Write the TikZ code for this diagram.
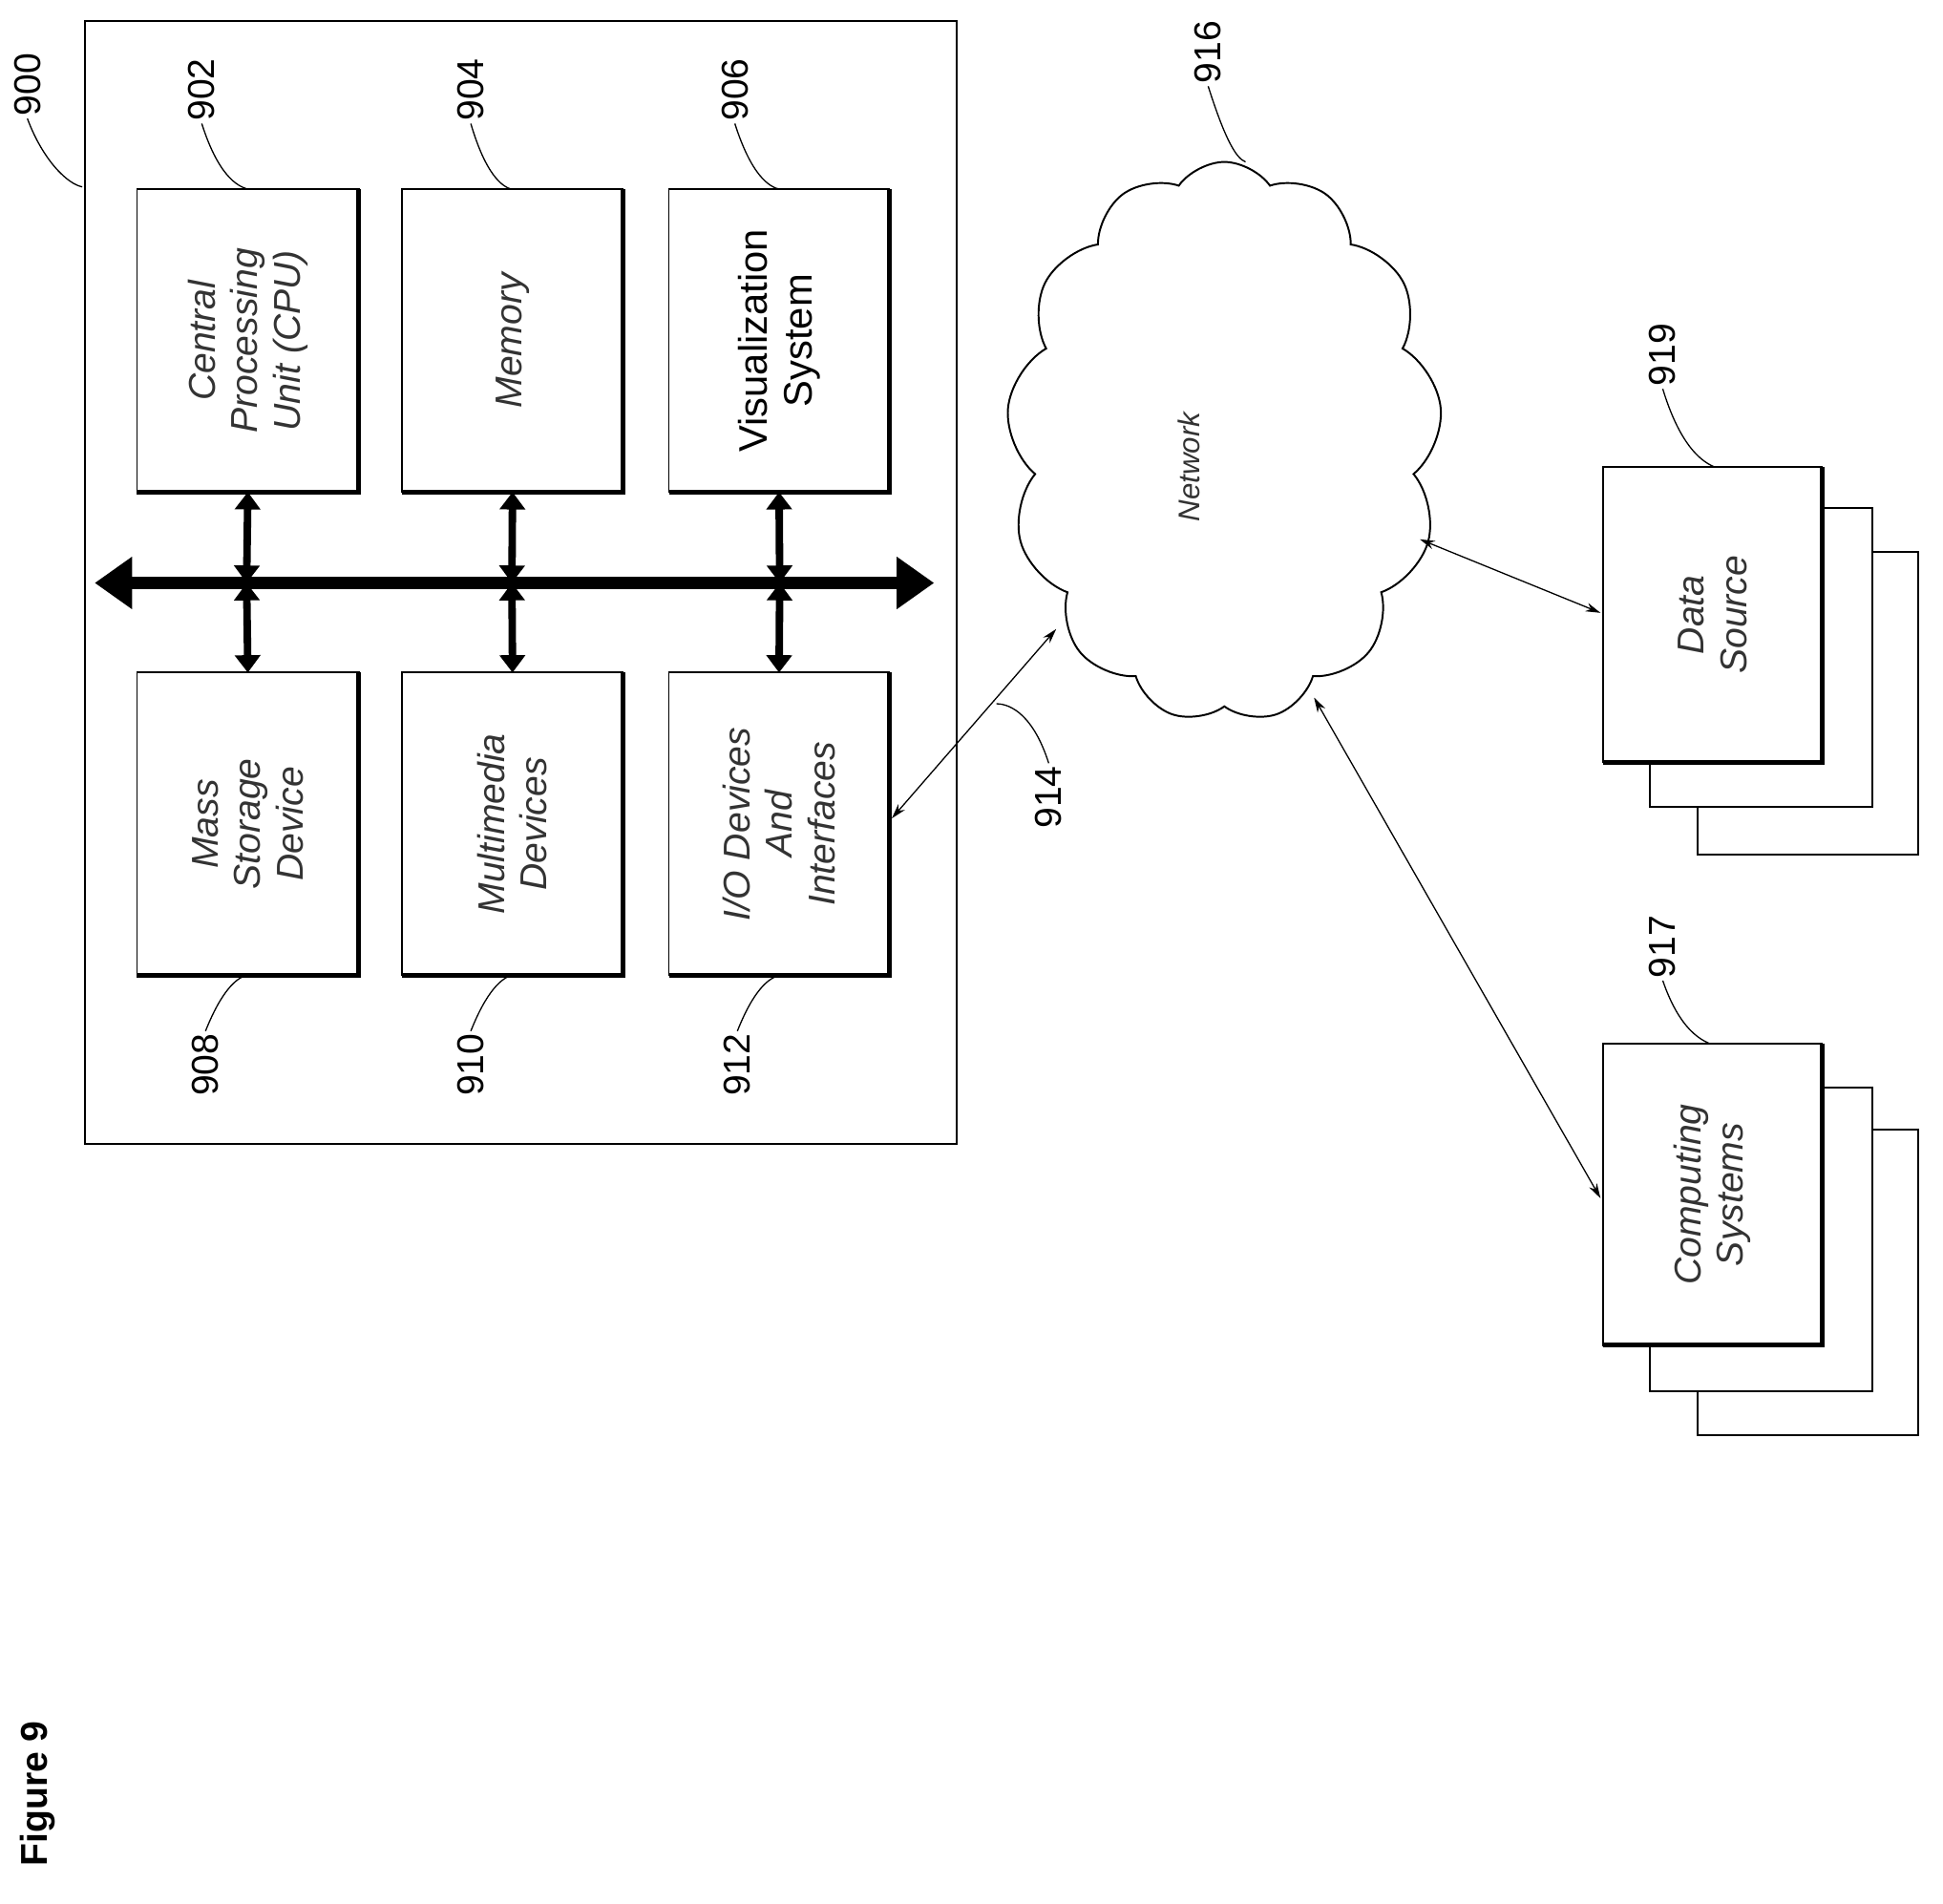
\documentclass[tikz,border=0pt]{standalone}
\usepackage{fontspec}
\setmainfont{Liberation Sans}
\usetikzlibrary{shapes.symbols,arrows.meta}
\begin{document}
\begin{tikzpicture}[x=1pt,y=-1pt,
  box/.style={draw,line width=1.5pt,fill=white,inner sep=0pt},
  lbl/.style={rotate=90,font=\fontsize{30}{32}\selectfont,inner sep=2pt},
  btxt/.style={rotate=90,align=center,font=\fontsize{30}{34}\selectfont\itshape,text=black!80},
  lead/.style={line width=1pt},
  con/.style={line width=1pt,{Stealth[length=12pt,width=7pt]}-{Stealth[length=12pt,width=7pt]}},
  vbus/.style={line width=6pt,{Triangle[length=14pt,width=20pt]}-{Triangle[length=14pt,width=20pt]}}]
\useasboundingbox (0,0) rectangle (1560,1528);
\fill[white] (0,0) rectangle (1560,1528);
\newcommand\shbox[5]{% name x1 y1 x2 y2
  \draw[box] (#2,#3) rectangle (#4,#5);
  \draw[line width=4pt] (#4,#3) -- (#4,#5) -- (#2,#5);
  \coordinate (#1) at ({(#2+#4)/2},{(#3+#5)/2});
  \coordinate (#1t) at ({(#2+#4)/2},#3);
  \coordinate (#1b) at ({(#2+#4)/2},#5);}
\draw[line width=1.5pt] (68,17) rectangle (768,918);
\shbox{cpu}{110}{152}{288}{395}
\shbox{mem}{323}{152}{500}{395}
\shbox{vis}{537}{152}{714}{395}
\shbox{mass}{110}{540}{288}{783}
\shbox{mm}{323}{540}{500}{783}
\shbox{io}{537}{540}{714}{783}
\node[btxt] at (cpu) {Central\\Processing\\Unit (CPU)};
\node[btxt] at (mem) {Memory};
\node[btxt,font=\fontsize{32}{36}\selectfont,text=black] at (vis) {Visualization\\System};
\node[btxt] at (mass) {Mass\\Storage\\Device};
\node[btxt] at (mm) {Multimedia\\Devices};
\node[btxt] at (io) {I/O Devices\\And\\Interfaces};
\coordinate (bl) at (76,468); \coordinate (br) at (750,468);
\draw[line width=10pt,{Triangle[length=30pt,width=40pt]}-{Triangle[length=30pt,width=40pt]}] (bl) -- (br);
\foreach \n/\x in {cpu/198,mem/411,vis/626}{\coordinate (\n d) at (\x,468);\draw[vbus] (\n b) -- (\n d);}
\foreach \n/\x in {mass/198,mm/411,io/626}{\coordinate (\n u) at (\x,468);\draw[vbus] (\n t) -- (\n u);}
% labels
\node[lbl] (l900) at (22,68) {900};
\node[lbl] (l902) at (162,72) {902};
\node[lbl] (l904) at (378,72) {904};
\node[lbl] (l906) at (590,72) {906};
\node[lbl] (l908) at (165,855) {908};
\node[lbl] (l910) at (378,855) {910};
\node[lbl] (l912) at (592,855) {912};
\node[lbl] (l914) at (842,640) {914};
\node[lbl] (l916) at (970,42) {916};
\node[lbl] (l919) at (1335,285) {919};
\node[lbl] (l917) at (1335,760) {917};
\node[rotate=90,font=\fontsize{30}{32}\selectfont\bfseries] (fig) at (30,1440) {Figure 9};
\draw[lead] (l900.west) .. controls (35,130) and (55,148) .. (66,150);
\draw[lead] (l902.west) .. controls (175,140) and (190,150) .. (200,152);
\draw[lead] (l904.west) .. controls (390,140) and (403,150) .. (411,152);
\draw[lead] (l906.west) .. controls (603,140) and (617,150) .. (626,152);
\draw[lead] (l908.east) .. controls (178,795) and (190,785) .. (198,783);
\draw[lead] (l910.east) .. controls (391,795) and (403,785) .. (411,783);
\draw[lead] (l912.east) .. controls (605,795) and (617,785) .. (626,783);
\draw[lead] (l914.east) .. controls (830,575) and (812,565) .. (800,565);
\draw[lead] (l916.west) .. controls (983,110) and (992,127) .. (1000,130);
\draw[lead] (l919.west) .. controls (1348,355) and (1365,372) .. (1380,376);
\draw[lead] (l917.west) .. controls (1348,825) and (1365,837) .. (1380,840);
% cloud
\node[cloud,draw,line width=1.5pt,cloud puffs=13,cloud puff arc=110,aspect=0.8,minimum width=350pt,minimum height=450pt,inner sep=0pt] (net) at (983,355) {};
\node[btxt,font=\fontsize{24}{28}\selectfont\itshape] at (955,375) {Network};
% stacks
\draw[box] (1363,443) rectangle (1540,686);
\draw[box] (1325,408) rectangle (1503,648);
\shbox{ds}{1287}{375}{1463}{612}
\node[btxt] at (ds) {Data\\Source};
\draw[box] (1363,907) rectangle (1540,1152);
\draw[box] (1325,873) rectangle (1503,1117);
\shbox{cs}{1287}{838}{1463}{1080}
\node[btxt] at (cs) {Computing\\Systems};
\coordinate (ioR) at (716,657); \coordinate (n1) at (848,505);
\draw[con] (ioR) -- (n1);
\coordinate (n2) at (1140,433); \coordinate (dsL) at (1285,492);
\draw[con] (n2) -- (dsL);
\coordinate (n3) at (1055,560); \coordinate (csL) at (1285,962);
\draw[con] (n3) -- (csL);
\end{tikzpicture}
\end{document}
